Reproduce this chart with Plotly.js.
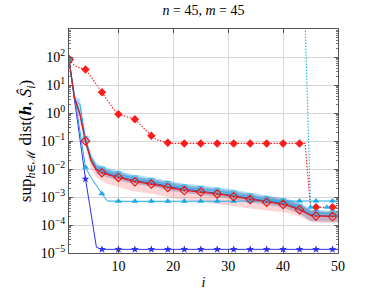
<!DOCTYPE html>
<html><head><meta charset="utf-8">
<script src="https://cdn.plot.ly/plotly-3.0.1.min.js"></script>
<style>html,body{margin:0;padding:0;background:#fff}</style>
</head><body><div id="chart" style="width:378px;height:291px"></div>
<script>
// iteration index i = 1..50
const iter = Array.from({length:50},(_,k)=>k+1);

// red mean (solid, hollow diamonds) and its band
const redMean = [80,3.5,0.9,0.1,0.02,0.009,0.0074,0.0063,0.0055,0.005,
 0.0044,0.0039,0.0035,0.0033,0.0031,0.0029,0.0027,0.00245,0.0022,0.002,
 0.00185,0.0017,0.00163,0.00157,0.0015,0.00142,0.00135,0.00128,0.0012,0.00112,
 0.00103,0.00094,0.00086,0.00081,0.00076,0.0007,0.00065,0.00062,0.00058,0.00054,
 0.00048,0.00041,0.00035,0.00028,0.00022,0.00021,0.000205,0.0002,0.0002,0.0002];
const redHi = [90,4.2,1.1,0.12,0.024,0.011,0.0089,0.0076,0.0066,0.006,
 0.0053,0.0047,0.0042,0.004,0.0037,0.0035,0.0032,0.0029,0.0026,0.0024,
 0.0022,0.002,0.002,0.0019,0.0018,0.0017,0.0016,0.0015,0.00144,0.00134,
 0.00124,0.00113,0.00103,0.00097,0.00091,0.00084,0.00078,0.001,0.00093,0.00087,
 0.00077,0.00066,0.00056,0.00045,0.00035,0.00033,0.00032,0.00032,0.00032,0.00032];
const redLo = [60,1.6,0.4,0.06,0.01,0.005,0.0037,0.003,0.0026,0.0023,
 0.002,0.0017,0.0016,0.0015,0.0014,0.0013,0.0012,0.0011,0.001,0.0009,
 0.00083,0.00076,0.00073,0.0007,0.00067,0.00064,0.0006,0.00057,0.00054,0.0005,
 0.00047,0.00044,0.00041,0.00039,0.00037,0.00035,0.00033,0.00032,0.0003,0.00029,
 0.00026,0.00023,0.0002,0.00016,0.00013,0.00012,0.00012,0.00012,0.00012,0.00012];

// steel-blue mean and band
const steelMean = [80,3.5,0.9,0.1,0.022,0.01,0.0081,0.0069,0.006,0.0055,
 0.0048,0.0043,0.0039,0.0036,0.0034,0.0032,0.003,0.0027,0.0024,0.0022,
 0.002,0.0019,0.0018,0.0017,0.00165,0.00156,0.00149,0.00141,0.00132,0.00123,
 0.00113,0.00103,0.00095,0.00089,0.00084,0.00077,0.00072,0.00068,0.00064,0.00059,
 0.00053,0.00045,0.00038,0.0003,0.00024,0.00022,0.00021,0.00021,0.00021,0.00021];
const steelHi = [90,4.2,1.2,0.13,0.031,0.014,0.0115,0.0098,0.0085,0.0078,
 0.0068,0.006,0.0054,0.0051,0.0048,0.0045,0.0042,0.0038,0.0034,0.0031,
 0.0029,0.0026,0.0025,0.0024,0.0023,0.0022,0.0021,0.002,0.00186,0.00174,
 0.0016,0.00146,0.00133,0.00126,0.00118,0.00109,0.001,0.00096,0.0009,0.00084,
 0.00075,0.00065,0.00055,0.00044,0.00032,0.0003,0.00029,0.00028,0.00028,0.00028];
const steelLo = [70,2.8,0.7,0.08,0.016,0.0072,0.0059,0.005,0.0044,0.004,
 0.0035,0.0031,0.0028,0.0026,0.0025,0.0023,0.0022,0.002,0.0018,0.0016,
 0.0015,0.00136,0.0013,0.00126,0.0012,0.00114,0.00108,0.00102,0.00096,0.0009,
 0.00082,0.00075,0.00069,0.00065,0.00061,0.00056,0.00052,0.0005,0.00046,0.00042,
 0.00036,0.0003,0.00025,0.00019,0.00014,0.000135,0.00013,0.00013,0.00013,0.00013];

// cyan mean (hollow squares) and band
const cyanMean = [80,3,2,0.12,0.026,0.012,0.0096,0.0082,0.0072,0.0065,
 0.0057,0.0051,0.0046,0.0043,0.004,0.0038,0.0035,0.0032,0.0029,0.0026,
 0.0024,0.0022,0.0021,0.002,0.00195,0.00185,0.00175,0.00166,0.00156,0.00146,
 0.00134,0.00122,0.00112,0.00105,0.00099,0.00091,0.00085,0.00081,0.00075,0.0007,
 0.00062,0.00053,0.00045,0.00036,0.00029,0.00027,0.00027,0.00026,0.00026,0.00026];
const cyanHi = [90,3.8,3.2,0.16,0.035,0.016,0.013,0.011,0.0096,0.0088,
 0.0077,0.0068,0.0061,0.0058,0.0054,0.0051,0.0047,0.0043,0.0039,0.0035,
 0.0032,0.003,0.0029,0.0027,0.0026,0.0025,0.0024,0.0022,0.0021,0.002,
 0.0018,0.00165,0.0015,0.00142,0.00133,0.00123,0.00114,0.00109,0.00102,0.00095,
 0.00084,0.00072,0.00061,0.00049,0.00036,0.00034,0.00033,0.00032,0.00032,0.00032];
const cyanLo = [70,2.2,1.2,0.09,0.021,0.0095,0.0078,0.0066,0.0058,0.0053,
 0.0046,0.0041,0.0037,0.0035,0.0033,0.003,0.0028,0.0026,0.0023,0.0021,
 0.0019,0.0018,0.0017,0.00165,0.00158,0.0015,0.00142,0.00135,0.00126,0.00118,
 0.00108,0.00099,0.0009,0.00085,0.0008,0.00074,0.00068,0.00065,0.00061,0.00057,
 0.0005,0.00043,0.00037,0.00029,0.00023,0.00022,0.00022,0.00021,0.00021,0.00021];

// blue solid with stars
const blueStar = [80,3,0.12,0.0044,0.00027,0.000016,0.0000135,0.0000135,0.0000135,0.0000135,
 0.0000135,0.0000135,0.0000135,0.0000135,0.0000135,0.0000135,0.0000135,0.0000135,0.0000135,0.0000135,
 0.0000135,0.0000135,0.0000135,0.0000135,0.0000135,0.0000135,0.0000135,0.0000135,0.0000135,0.0000135,
 0.0000135,0.0000135,0.0000135,0.0000135,0.0000135,0.0000135,0.0000135,0.0000135,0.0000135,0.0000135,
 0.0000135,0.0000135,0.0000135,0.0000135,0.0000135,0.0000135,0.0000135,0.0000135,0.0000135,0.0000135];

// cyan solid with triangles
const cyanTri = [80,4,0.2,0.0115,0.005,0.0025,0.0013,0.00072,0.0007,0.0007,
 0.0007,0.0007,0.0007,0.0007,0.0007,0.0007,0.0007,0.0007,0.0007,0.0007,
 0.0007,0.0007,0.0007,0.0007,0.0007,0.0007,0.0007,0.0007,0.0007,0.0007,
 0.0007,0.0007,0.0007,0.0007,0.0007,0.0007,0.0007,0.0007,0.00072,0.00072,
 0.00072,0.00072,0.00072,0.00072,0.00072,0.00072,0.00072,0.00072,0.00072,0.00072];

// red dotted with filled diamonds
const redDot = [80,50,40,36,20,10,5.5,2.8,1.5,0.9,
 0.8,0.68,0.6,0.38,0.24,0.155,0.11,0.095,0.087,0.082,
 0.082,0.082,0.082,0.082,0.082,0.082,0.082,0.082,0.082,0.082,
 0.082,0.082,0.082,0.082,0.082,0.082,0.082,0.082,0.082,0.082,
 0.082,0.082,0.082,0.082,0.00043,0.00043,0.00043,0.00043,0.00043,0.00043];

// cyan dotted with triangles (above the plotted range until i = 44)
const cyanDot = [2000,2000,2000,2000,2000,2000,2000,2000,2000,2000,
 2000,2000,2000,2000,2000,2000,2000,2000,2000,2000,
 2000,2000,2000,2000,2000,2000,2000,2000,2000,2000,
 2000,2000,2000,2000,2000,2000,2000,2000,2000,2000,
 2000,2000,2000,2000,0.00043,0.00043,0.00043,0.00043,0.00043,0.00043];

const yTickVals = [1e-5,1e-4,1e-3,1e-2,1e-1,1,10,100];
const yTickText = ['10<sup>−5</sup>','10<sup>−4</sup>','10<sup>−3</sup>','10<sup>−2</sup>','10<sup>−1</sup>','10<sup>0</sup>','10<sup>1</sup>','10<sup>2</sup>'];
const xTickVals = [10,20,30,40,50];

function band(hi, lo, color){
  return {x: iter.concat(iter.slice().reverse()), y: hi.concat(lo.slice().reverse()),
    type:'scatter', mode:'lines', fill:'toself', fillcolor:color, line:{width:0}, hoverinfo:'skip'};
}
function every(arr, start){
  const xs=[], ys=[];
  iter.forEach((v,k)=>{ if ((v-start)%3===0 && v>=start){ xs.push(v); ys.push(arr[k]); } });
  return {xs, ys};
}
function line(arr, color, width, dash){
  return {x: iter, y: arr, type:'scatter', mode:'lines', line:{color, width, dash: dash||'solid'}};
}
function marks(arr, start, symbol, size, color, lineColor, lw){
  const m = every(arr, start);
  return {x: m.xs, y: m.ys, type:'scatter', mode:'markers',
    marker:{symbol, size, color, line:{color: lineColor||color, width: lw||0}}};
}

const RED='#ee1111', CYAN='#1aa7e6', BLUE='#2f2ff5', STEEL='#3a5aa8';
const DOTS='1.5px,1.5px';
const traces = [
  band(redHi, redLo, 'rgba(255,70,70,0.22)'),
  band(cyanHi, cyanLo, 'rgba(40,175,240,0.35)'),
  band(steelHi, steelLo, 'rgba(80,95,160,0.33)'),
  line(cyanDot, '#22b5ee', 1.1, DOTS),
  line(redDot, '#ff1a1a', 1.1, DOTS),
  line(blueStar, BLUE, 1),
  line(cyanTri, CYAN, 1),
  line(cyanMean, '#2fb0ea', 1),
  line(steelMean, STEEL, 1),
  line(redMean, RED, 1.1),
  marks(redDot, 1, 'diamond', 6.5, '#ff1a1a'),
  marks(cyanDot, 3, 'triangle-up', 6, '#22b5ee'),
  marks(blueStar, 1, 'star', 6, BLUE),
  marks(cyanTri, 1, 'triangle-up', 6, CYAN),
  marks(cyanMean, 1, 'square-open', 5, '#2fb0ea', '#2fb0ea', 1),
  marks(redMean, 1, 'diamond-open-dot', 6.5, RED, RED, 1.1)
];

const layout = {
  width:378, height:291,
  margin:{l:69, r:39.5, t:29, b:38},
  paper_bgcolor:'#fff', plot_bgcolor:'#fff',
  showlegend:false,
  font:{family:'Liberation Serif, DejaVu Serif, serif', size:14, color:'#000'},
  title:{text:'<i>n</i> = 45, <i>m</i> = 45', font:{size:14}, x:0.5, xref:'paper', xanchor:'center',
         y:1-10/291, yref:'container', yanchor:'middle'},
  xaxis:{range:[1,50], tickmode:'array', tickvals:xTickVals, ticks:'inside', ticklen:4, tickcolor:'#555',
         showline:true, linecolor:'#555', linewidth:1, mirror:'allticks', showgrid:true, gridcolor:'#d6d6d6',
         zeroline:false, tickfont:{size:14}, title:{text:'<i>i</i>', standoff:4, font:{size:14}}},
  yaxis:{type:'log', range:[-5,3], tickmode:'array', tickvals:yTickVals, ticktext:yTickText, ticks:'inside', ticklen:4,
         tickcolor:'#555', showline:true, linecolor:'#555', linewidth:1, mirror:'allticks', showgrid:true,
         gridcolor:'#d6d6d6', zeroline:false, tickfont:{size:14},
         minor:{ticks:'inside', ticklen:2, tickcolor:'#777', dtick:'D1', showgrid:false},
         title:{text:'sup<sub><i>h</i>∈ℳ</sub> dist(<b><i>h</i></b>, <i>Ŝ</i><sub><i>i</i></sub>)', standoff:4, font:{size:17}}}
};

Plotly.newPlot('chart', traces, layout, {staticPlot:true, displayModeBar:false});
</script>
</body></html>
